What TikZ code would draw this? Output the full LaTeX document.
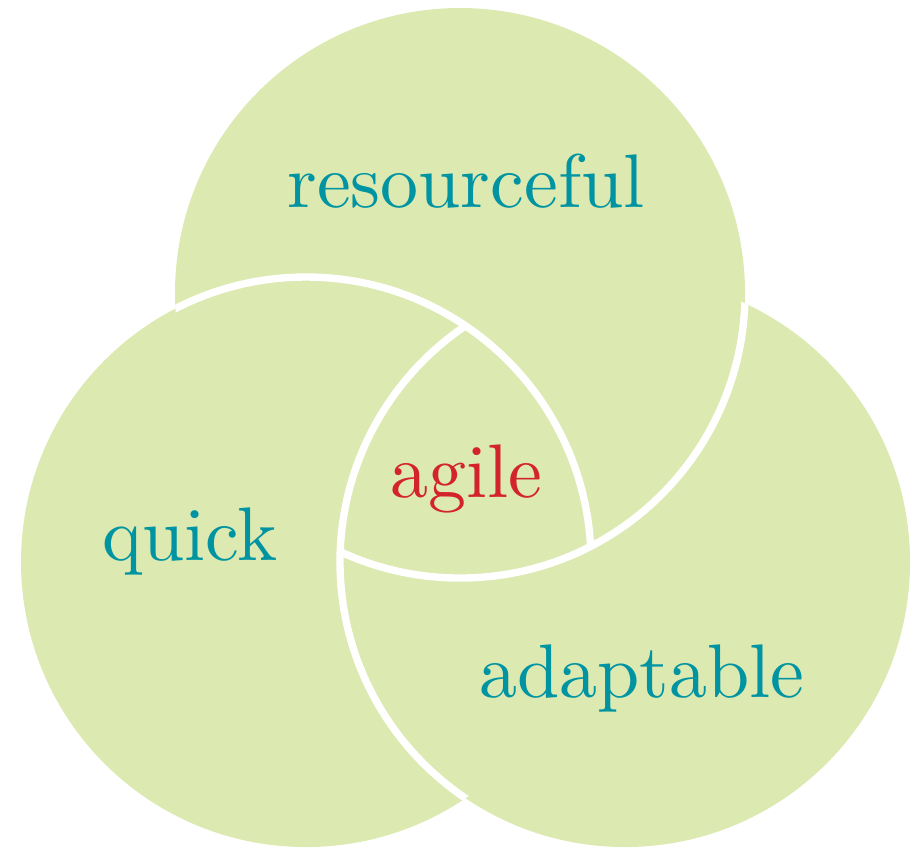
\documentclass[tikz,border=0pt]{standalone}
\usepackage{fontspec}
\setmainfont{lmroman10-regular}[Extension=.otf]
\definecolor{leafgreen}{RGB}{220,233,176}
\definecolor{tealtext}{RGB}{0,148,163}
\definecolor{agilered}{RGB}{211,36,44}
\tikzset{
  trait/.style={anchor=base, text=tealtext, font=\fontsize{21.6}{26}\selectfont},
  core/.style={trait, text=agilered}
}
\begin{document}
\begin{tikzpicture}[x=0.01cm, y=-0.01cm]
  \def \radius {285}
  \def \rim {2.1pt} % white gap between the circles
  \useasboundingbox (0,0) rectangle (919,850);
  \coordinate (top) at (460,293);
  \coordinate (left) at (306,562);
  \coordinate (right) at (625,562);
  \foreach \c in {top,left,right}
  {
    \fill[leafgreen] (\c) circle [radius=\radius];
  }
  % each circle lies over the next one round
  \foreach \c/\d in {left/top, top/right, right/left}
  {
    \begin{scope}
      \clip (\d) circle [radius=\radius];
      \draw[white, line width=\rim] (\c) circle [radius=\radius];
    \end{scope}
  }
  \node[trait] (resourceful) at (466,207) {resourceful};
  \node[trait] (quick) at (190,560) {quick};
  \node[trait] (adaptable) at (642,697) {adaptable};
  \node[core] (agile) at (466,497) {agile};
\end{tikzpicture}
\end{document}
